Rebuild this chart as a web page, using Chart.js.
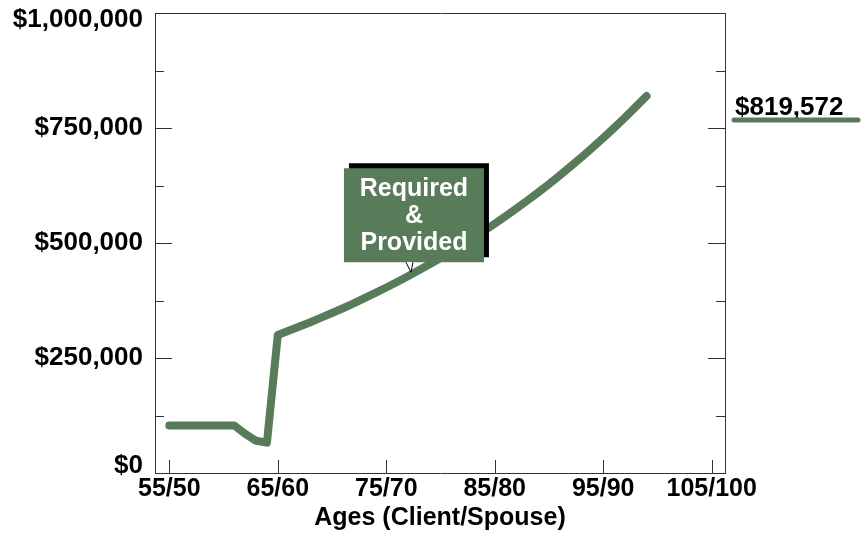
<!DOCTYPE html>
<html>
<head>
<meta charset="utf-8">
<script src="https://cdn.jsdelivr.net/npm/chart.js@4/dist/chart.umd.min.js"></script>
<style>
  html, body { margin: 0; padding: 0; background: #fff; }
  #wrap { width: 863px; height: 535px; }
</style>
</head>
<body>
<div id="wrap"><canvas id="chart" width="863" height="535"></canvas></div>
<script>
// Client age for each year of the projection
const ages = [
  55, 56, 57, 58, 59, 60, 61, 62, 63, 64,
  65, 66, 67, 68, 69, 70, 71, 72, 73, 74,
  75, 76, 77, 78, 79, 80, 81, 82, 83, 84,
  85, 86, 87, 88, 89, 90, 91, 92, 93, 94,
  95, 96, 97, 98, 99
];

// Required & provided amount per year (dollars)
const requiredProvided = [
  103000, 103000, 103000, 103000, 103000, 103000, 103000, 85000, 70000, 66000,
  300000, 309000, 318270, 327818, 337653, 347782, 358216, 368962, 380031, 391432,
  403175, 415270, 427728, 440560, 453777, 467390, 481412, 495854, 510730, 526052,
  541833, 558088, 574831, 592076, 609838, 628133, 646977, 666387, 686378, 706970,
  728179, 750024, 772525, 795701, 819572
];

// Axis ticks
const xTickAges = [55, 65, 75, 85, 95, 105];
const xTickLabels = ['55/50', '65/60', '75/70', '85/80', '95/90', '105/100'];
const yTickValues = [0, 250000, 500000, 750000, 1000000];
const yTickLabels = ['$0', '$250,000', '$500,000', '$750,000', '$1,000,000'];

// Callout note
const noteLines = ['Required', '&', 'Provided'];
const noteAge = 77;

const GREEN = '#587b5a';
const AXIS = '#333333';
const FONT = "'Liberation Sans', Arial, Helvetica, sans-serif";

const money = v => '$' + Math.round(v).toLocaleString('en-US');

// Tick marks drawn on the inside of the frame
const insideTicks = {
  id: 'insideTicks',
  beforeDatasetsDraw(chart) {
    const { ctx, chartArea: a, scales: { x, y } } = chart;
    ctx.save();
    ctx.strokeStyle = AXIS;
    ctx.lineWidth = 1;
    ctx.beginPath();
    y.ticks.forEach(t => {
      if (t.value <= y.min || t.value >= y.max) return;
      const py = Math.round(y.getPixelForValue(t.value)) + 0.5;
      const len = yTickValues.includes(t.value) ? 17 : 9;
      ctx.moveTo(a.left, py); ctx.lineTo(a.left + len, py);
      ctx.moveTo(a.right, py); ctx.lineTo(a.right - len, py);
    });
    x.ticks.forEach(t => {
      const px = Math.round(x.getPixelForValue(t.value)) + 0.5;
      ctx.moveTo(px, a.bottom); ctx.lineTo(px, a.bottom - 13);
    });
    ctx.stroke();
    ctx.restore();
  }
};

// "Required & Provided" callout box and the end-value label
const annotations = {
  id: 'annotations',
  afterDraw(chart) {
    const { ctx, chartArea: a, scales: { x, y } } = chart;
    ctx.save();

    // callout box pointing at the line
    const i = ages.indexOf(noteAge);
    const tipX = x.getPixelForValue(ages[i]) + 3;
    const tipY = y.getPixelForValue(requiredProvided[i]) - 4;
    const w = 140, h = 94;
    const bottom = tipY - 10;
    const top = bottom - h;
    const left = tipX + 3 - w / 2;

    ctx.fillStyle = '#000';
    ctx.fillRect(left + 5, top - 5, w, h);
    ctx.fillStyle = GREEN;
    ctx.fillRect(left, top, w, h);

    ctx.beginPath();
    ctx.moveTo(tipX - 5, bottom);
    ctx.lineTo(tipX, tipY);
    ctx.lineTo(tipX + 2, bottom);
    ctx.closePath();
    ctx.fillStyle = '#fff';
    ctx.fill();
    ctx.strokeStyle = '#000';
    ctx.lineWidth = 1;
    ctx.beginPath();
    ctx.moveTo(tipX - 5, bottom);
    ctx.lineTo(tipX, tipY);
    ctx.lineTo(tipX + 2, bottom);
    ctx.stroke();

    ctx.fillStyle = '#fff';
    ctx.font = `bold 25px ${FONT}`;
    ctx.textAlign = 'center';
    ctx.textBaseline = 'alphabetic';
    noteLines.forEach((line, k) => {
      ctx.fillText(line, left + w / 2, top + 28 + k * 27);
    });

    // end value label with its series swatch
    const last = requiredProvided.length - 1;
    const ly = y.getPixelForValue(requiredProvided[last]);
    ctx.fillStyle = '#000';
    ctx.textAlign = 'left';
    ctx.font = `bold 26px ${FONT}`;
    ctx.fillText(money(requiredProvided[last]), a.right + 10, ly + 19);
    ctx.strokeStyle = GREEN;
    ctx.lineWidth = 5;
    ctx.lineCap = 'round';
    ctx.beginPath();
    ctx.moveTo(a.right + 9, ly + 24);
    ctx.lineTo(a.right + 133, ly + 24);
    ctx.stroke();

    ctx.restore();
  }
};

const frameAxis = {
  display: true,
  ticks: { display: false },
  grid: { display: false, drawTicks: false },
  border: { display: true, color: AXIS, width: 1 }
};

new Chart(document.getElementById('chart'), {
  type: 'line',
  data: {
    datasets: [{
      label: 'Required & Provided',
      data: ages.map((a, k) => ({ x: a, y: requiredProvided[k] })),
      borderColor: GREEN,
      backgroundColor: GREEN,
      borderWidth: 8,
      borderCapStyle: 'round',
      borderJoinStyle: 'round',
      pointRadius: 0,
      tension: 0,
      fill: false
    }]
  },
  options: {
    responsive: false,
    animation: false,
    devicePixelRatio: 1,
    layout: { padding: { top: 13, right: 138, left: 0, bottom: 0 } },
    plugins: { legend: { display: false }, tooltip: { enabled: false } },
    scales: {
      x: {
        type: 'linear',
        position: 'bottom',
        min: 53.68,
        max: 106.23,
        afterBuildTicks: s => { s.ticks = xTickAges.map(v => ({ value: v })); },
        afterFit: s => { s.height = 62; s.paddingLeft = 0; s.paddingRight = 0; },
        ticks: {
          autoSkip: false,
          maxRotation: 0,
          padding: 1,
          color: '#000',
          font: { family: FONT, size: 25, weight: 'bold' },
          callback: v => xTickLabels[xTickAges.indexOf(v)]
        },
        grid: { display: false, drawTicks: false },
        border: { display: true, color: AXIS, width: 1 },
        title: {
          display: true,
          text: 'Ages (Client/Spouse)',
          color: '#000',
          font: { family: FONT, size: 25, weight: 'bold' },
          padding: { top: 0, bottom: 2 }
        }
      },
      y: {
        type: 'linear',
        position: 'left',
        min: 0,
        max: 1000000,
        afterFit: s => { s.width = 155; s.paddingTop = 0; s.paddingBottom = 0; },
        ticks: {
          stepSize: 125000,
          autoSkip: false,
          padding: 12,
          color: '#000',
          font: ctx => ({
            family: FONT, size: 26, weight: 'bold',
            lineHeight: (ctx.tick && (ctx.tick.value === 0 || ctx.tick.value === 1000000)) ? 0.55 : 1.2
          }),
          callback: v => {
            const k = yTickValues.indexOf(v);
            if (k < 0) return '';
            if (v === 1000000) return ['', yTickLabels[k]];
            if (v === 0) return [yTickLabels[k], ''];
            return yTickLabels[k];
          }
        },
        grid: { display: false, drawTicks: false },
        border: { display: true, color: AXIS, width: 1 }
      },
      x2: Object.assign({ type: 'linear', position: 'top', min: 53.68, max: 106.23,
        afterFit: s => { s.height = 0; } }, frameAxis),
      y2: Object.assign({ type: 'linear', position: 'right', min: 0, max: 1000000,
        afterFit: s => { s.width = 0; } }, frameAxis)
    }
  },
  plugins: [insideTicks, annotations]
});
</script>
</body>
</html>
